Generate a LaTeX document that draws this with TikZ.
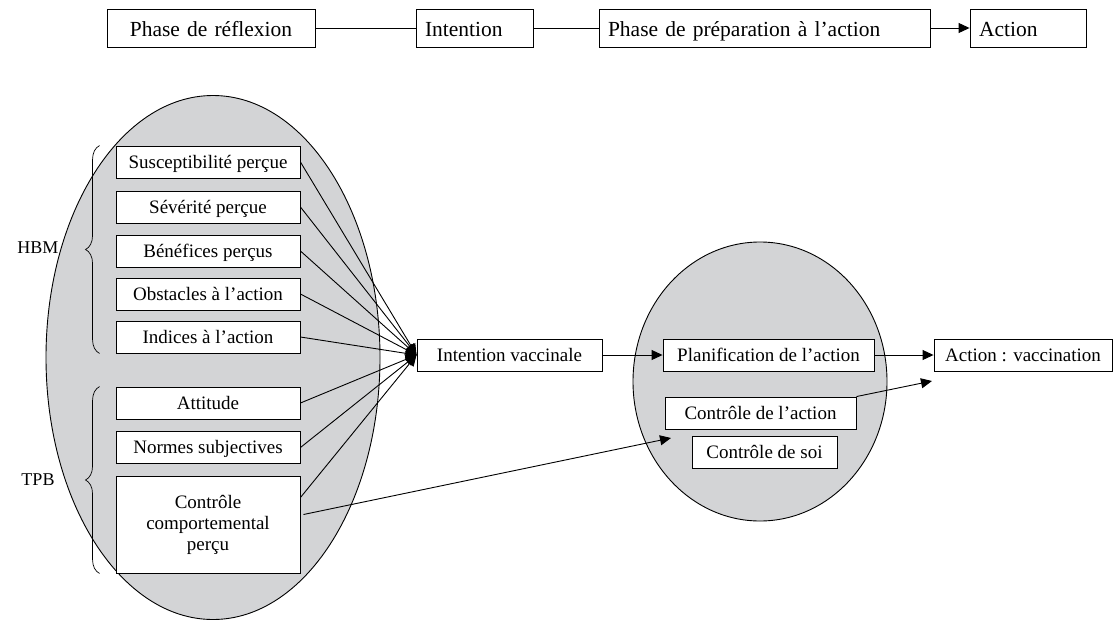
\documentclass[tikz,border=0pt]{standalone}
\usepackage{fontspec}
\setmainfont{Liberation Serif}
\usetikzlibrary{arrows.meta,shapes.geometric,decorations.pathreplacing}
\definecolor{ovalgris}{RGB}{211,212,214}

\begin{document}
\begin{tikzpicture}[x=1pt,y=-1pt,line width=0.9pt,>/.tip={Triangle[length=11pt,width=10pt]},
    cadre/.style={draw,fill=white,inner sep=0pt,minimum height=32pt,font=\fontsize{19}{21}\selectfont,align=center},
    boite/.style={cadre,text height=14pt,text depth=2pt},
    etape/.style={draw,inner xsep=9pt,inner ysep=0pt,minimum height=38pt,text height=18pt,text depth=2pt,font=\fontsize{21.5}{24}\selectfont,align=left},
    ovale/.style={ellipse,draw,fill=ovalgris,inner sep=0pt},
    modele/.style={font=\fontsize{18}{20}\selectfont}]
    \useasboundingbox (0,0) rectangle (1115,621);
    % phases
    \node[etape, text width=190pt, align=center] (ref) at (211,28) {Phase de réflexion};
    \node[etape, text width=99pt] (int) at (474.5,28) {Intention};
    \node[etape, text width=313pt] (pre) at (764.5,28) {Phase de préparation à l’action};
    \node[etape, text width=98pt] (act0) at (1028,28) {Action};
    \draw (ref) -- (int);
    \draw (int) -- (pre);
    \draw[->] (pre) -- (act0);
    % ovales
    \node[ovale, minimum width=334pt, minimum height=524pt] (lov) at (213,357.5) {};
    \node[ovale, minimum width=254pt, minimum height=279pt] (rov) at (760,381.5) {};
    \node[boite, minimum width=185pt] (iv) at (509.5,355) {Intention vaccinale};
    \node[boite, minimum width=211pt] (pla) at (768.5,355) {Planification de l’action};
    \node[boite, minimum width=178pt] (act) at (1023,355) {Action : vaccination};
    \node[boite, minimum width=191pt] (cda) at (760.5,413) {Contrôle de l’action};
    \node[boite, minimum width=145pt] (cds) at (764.5,452) {Contrôle de soi};
    \foreach \nom/\y/\txt in {sus/162/Susceptibilité perçue, sev/207/Sévérité perçue,
        ben/251/Bénéfices perçus, obs/294/Obstacles à l’action, ind/337/Indices à l’action,
        att/403/Attitude, nor/447.5/Normes subjectives} {
    	\node[boite, minimum width=184pt] (\nom) at (208,\y) {\txt};
    	\draw[->] (\nom.east) -- (iv.west);
    }
    \node[cadre, minimum width=184pt, minimum height=97pt] (ccp) at (208,524.5) {Contrôle\\comportemental\\perçu};
    \draw[->] ([yshift=27pt]ccp.east) -- (iv.west);
    \coordinate (cible) at (671,438);
    \coordinate (cible2) at (932,381);
    \draw[->] ([xshift=3pt,yshift=10pt]ccp.east) -- (cible);
    \draw[->] (cda.north east) -- (cible2);
    \draw[->] (iv) -- (pla);
    \draw[->] (pla) -- (act);
    % accolades
    \draw[line width=0.7pt, decorate, decoration={brace,amplitude=14pt}]
        ([xshift=-16pt]ind.south west) -- ([xshift=-16pt]sus.north west);
    \draw[line width=0.7pt, decorate, decoration={brace,amplitude=14pt}]
        ([xshift=-16pt]ccp.south west) -- ([xshift=-16pt]att.north west);
    \node[modele] (hbm) at (38,248) {HBM};
    \node[modele] (tpb) at (38,480) {TPB};
\end{tikzpicture}
\end{document}
